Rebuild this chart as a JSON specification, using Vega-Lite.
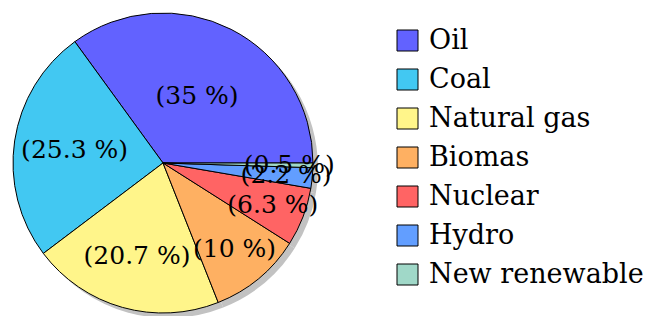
{
  "$schema": "https://vega.github.io/schema/vega-lite/v6.json",
  "width": 326,
  "height": 306,
  "padding": {"left": 0, "top": 10, "right": 0, "bottom": 0},
  "autosize": {"type": "pad"},
  "background": "white",
  "config": {"view": {"stroke": null}},
  "data": {
    "values": [
      {"source": "Oil", "value": 35, "label": "(35 %)", "rank": 1},
      {"source": "Coal", "value": 25.3, "label": "(25.3 %)", "rank": 2},
      {"source": "Natural gas", "value": 20.7, "label": "(20.7 %)", "rank": 3},
      {"source": "Biomas", "value": 10, "label": "(10 %)", "rank": 4},
      {"source": "Nuclear", "value": 6.3, "label": "(6.3 %)", "rank": 5},
      {"source": "Hydro", "value": 2.2, "label": "(2.2 %)", "rank": 6},
      {"source": "New renewable", "value": 0.5, "label": "(0.5 %)", "rank": 7}
    ]
  },
  "layer": [
    {
      "mark": {"type": "arc", "radius": 150, "xOffset": 5, "yOffset": 5, "fill": "#c2c2c2", "stroke": null},
      "encoding": {
        "theta": {"field": "value", "type": "quantitative", "stack": true, "scale": {"range": [1.5707963, -4.712389]}},
        "order": {"field": "rank", "type": "quantitative"}
      }
    },
    {
      "mark": {"type": "arc", "radius": 150, "stroke": "black", "strokeWidth": 1, "opacity": 1},
      "encoding": {
        "theta": {"field": "value", "type": "quantitative", "stack": true, "scale": {"range": [1.5707963, -4.712389]}},
        "order": {"field": "rank", "type": "quantitative"},
        "color": {
          "field": "source",
          "type": "nominal",
          "sort": ["Oil", "Coal", "Natural gas", "Biomas", "Nuclear", "Hydro", "New renewable"],
          "scale": {
            "domain": ["Oil", "Coal", "Natural gas", "Biomas", "Nuclear", "Hydro", "New renewable"],
            "range": ["#6262ff", "#42c8f2", "#fff58a", "#feb062", "#ff6464", "#629eff", "#a0d8c8"]
          },
          "legend": {
            "title": null,
            "orient": "none",
            "legendX": 394,
            "legendY": 17,
            "padding": 0,
            "symbolType": "square",
            "symbolSize": 441,
            "symbolStrokeColor": "black",
            "symbolStrokeWidth": 1,
            "symbolOpacity": 1,
            "labelFont": "DejaVu Serif",
            "labelFontSize": 27,
            "labelColor": "black",
            "labelLimit": 0,
            "labelOffset": 8,
            "rowPadding": 11
          }
        }
      }
    },
    {
      "mark": {"type": "text", "font": "DejaVu Serif", "fontSize": 25, "color": "black", "align": "center", "baseline": "middle"},
      "encoding": {
        "theta": {"field": "value", "type": "quantitative", "stack": true, "scale": {"range": [1.5707963, -4.712389]}},
        "order": {"field": "rank", "type": "quantitative"},
        "radius": {"field": "value", "type": "quantitative", "scale": {"type": "linear", "domain": [0, 35], "range": [127, 75], "zero": false}},
        "text": {"field": "label", "type": "nominal"}
      }
    }
  ]
}
